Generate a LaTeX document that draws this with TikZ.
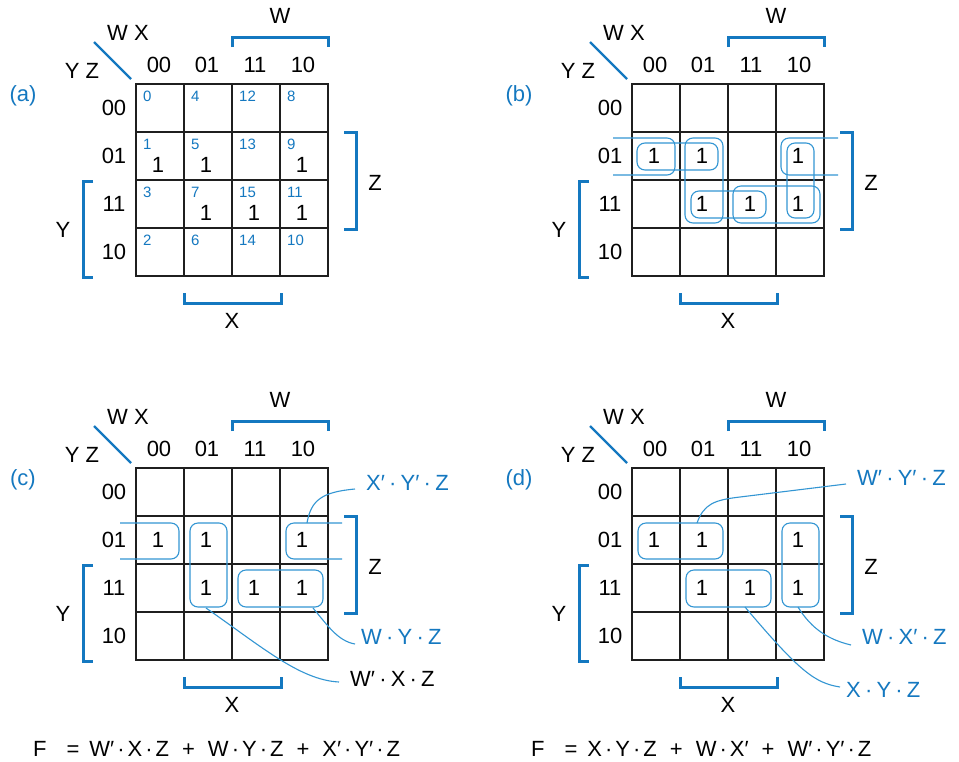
\documentclass[tikz,border=0pt]{standalone}
\usepackage{fontspec}
\setmainfont{Liberation Sans}
\definecolor{kblue}{HTML}{1478C0}
\definecolor{lblue}{HTML}{3396D3}
\tikzset{
  gridline/.style={draw=black!88, line width=1.8pt},
  brk/.style={draw=kblue, line width=3pt},
  diag/.style={draw=kblue, line width=2.4pt},
  grp/.style={draw=lblue, line width=1.1pt, rounded corners=8pt},
  leader/.style={draw=lblue, line width=1.1pt},
  txt/.style={font=\fontsize{22}{26}\selectfont, inner sep=0pt},
  btxt/.style={txt, text=kblue},
  cellnum/.style={font=\fontsize{15}{18}\selectfont, text=kblue, inner sep=0pt, anchor=west},
}
\newcommand\ld{\hspace{4.2pt}·\hspace{4.2pt}}
\newcommand\fd{\hspace{3pt}·\hspace{3pt}}
\newcommand\kpanel[4]{%
\begin{scope}[shift={(#2,#3)}]
  \foreach \k in {1,2,3}{
    \draw[gridline] (136+48*\k,84) -- (136+48*\k,276);
    \draw[gridline] (136,84+48*\k) -- (328,84+48*\k);}
  \draw[gridline] (136,84) rectangle (328,276);
  \foreach \lab [count=\k from 0] in {00,01,11,10}{
    \node[txt] (#1c\k) at (159+48*\k,65) {\lab};
    \node[txt] (#1r\k) at (114,108+48*\k) {\lab};}
  \node[txt] (#1wx) at (128,33) {W X};
  \node[txt] (#1yz) at (82,71) {Y Z};
  \draw[diag] (94,42) -- (131,79);
  \node[btxt] (#1id) at (23,96) {(#4)};
  \draw[brk] (232,47) -- (232,37) -- (328,37) -- (328,47);
  \node[txt] (#1W) at (280,16) {W};
  \draw[brk] (344,132) -- (356,132) -- (356,229) -- (344,229);
  \node[txt] (#1Z) at (375,183) {Z};
  \draw[brk] (93,181) -- (83,181) -- (83,277) -- (93,277);
  \node[txt] (#1Y) at (63,230) {Y};
  \draw[brk] (184,293) -- (184,303) -- (281,303) -- (281,293);
  \node[txt] (#1X) at (232,321) {X};
\end{scope}}
\newcommand\kones[4]{% prefix, dx, dy, y offset of the 1s
\begin{scope}[shift={(#2,#3)}]
  \foreach \cc/\rr [count=\k] in {0/1,1/1,3/1,1/2,2/2,3/2}{
    \node[txt] (#1one\k) at (158+48*\cc,108+48*\rr+#4) {1};}
\end{scope}}
\begin{document}
\begin{tikzpicture}[x=1pt,y=-1pt]
\useasboundingbox[fill=white] (0,0) rectangle (959,761);
% panels
\kpanel{a}{0}{0}{a}
\kpanel{b}{496}{0}{b}
\kpanel{c}{0}{384}{c}
\kpanel{d}{496}{384}{d}
% (a) minterm numbers and ones
\foreach \n [count=\j from 0] in {0,4,12,8,1,5,13,9,3,7,15,11,2,6,14,10}{
  \pgfmathtruncatemacro\cc{mod(\j,4)}
  \pgfmathtruncatemacro\rr{div(\j,4)}
  \node[cellnum] (an\n) at (143+48*\cc,96+48*\rr) {\n};}
\kones{a}{0}{0}{9}
\kones{b}{496}{0}{0}
\kones{c}{0}{384}{0}
\kones{d}{496}{384}{0}
% (b) prime implicants
\begin{scope}[shift={(496,0)}]
  \draw[grp] (117,138) -- (179,138) -- (179,175) -- (117,175);
  \draw[grp] (342,138) -- (285,138) -- (285,175) -- (342,175);
  \draw[grp] (141,143) rectangle (222,170);
  \draw[grp] (189,138) rectangle (227,223);
  \draw[grp] (195,191) rectangle (270,218);
  \draw[grp] (237,186) rectangle (324,223);
  \draw[grp] (291,143) rectangle (318,218);
\end{scope}
% (c) groups
\begin{scope}[shift={(0,384)}]
  \draw[grp] (120,139) -- (179,139) -- (179,175) -- (120,175);
  \draw[grp] (342,139) -- (286,139) -- (286,175) -- (342,175);
  \draw[grp] (190,139) rectangle (227,223);
  \draw[grp] (238,186) rectangle (323,223);
\end{scope}
% (d) groups
\begin{scope}[shift={(496,384)}]
  \draw[grp] (142,139) rectangle (227,175);
  \draw[grp] (190,186) rectangle (275,223);
  \draw[grp] (286,139) rectangle (323,223);
\end{scope}
% (c) labels and leaders
\node[btxt,anchor=west] (cl1) at (366,483) {X′\ld Y′\ld Z};
\node[btxt,anchor=west] (cl2) at (361,637) {W\ld Y\ld Z};
\node[txt,anchor=west] (cl3) at (350,679) {W′\ld X\ld Z};
\coordinate (cl1a) at (307,523); \coordinate (cl1b) at (355,489);
\coordinate (cl2a) at (313,608); \coordinate (cl2b) at (355,644);
\coordinate (cl3a) at (206,608); \coordinate (cl3b) at (339,682);
\draw[leader] (cl1b) .. controls (322,492) and (311,500) .. (cl1a);
\draw[leader] (cl2a) .. controls (328,626) and (338,641) .. (cl2b);
\draw[leader] (cl3a) .. controls (262,647) and (300,680) .. (cl3b);
% (d) labels and leaders
\node[btxt,anchor=west] (dl1) at (857,478) {W′\ld Y′\ld Z};
\node[btxt,anchor=west] (dl2) at (862,637) {W\ld X′\ld Z};
\node[btxt,anchor=west] (dl3) at (846,690) {X\ld Y\ld Z};
\coordinate (dl1a) at (697,523); \coordinate (dl1b) at (846,484);
\coordinate (dl2a) at (798,607); \coordinate (dl2b) at (851,645);
\coordinate (dl3a) at (745,607); \coordinate (dl3b) at (840,687);
\draw[leader] (dl1a) .. controls (704,504) and (714,500) .. (740,497) -- (dl1b);
\draw[leader] (dl2a) .. controls (812,630) and (830,640) .. (dl2b);
\draw[leader] (dl3a) .. controls (800,672) and (815,683) .. (dl3b);
% formulas
\node[txt,anchor=west] (fc) at (33,749) {F\hspace{20pt}=\hspace{10pt}W′\fd X\fd Z\hspace{13pt}+\hspace{13pt}W\fd Y\fd Z\hspace{13pt}+\hspace{13pt}X′\fd Y′\fd Z};
\node[txt,anchor=west] (fd) at (531,749) {F\hspace{20pt}=\hspace{10pt}X\fd Y\fd Z\hspace{13pt}+\hspace{13pt}W\fd X′\hspace{13pt}+\hspace{13pt}W′\fd Y′\fd Z};
\end{tikzpicture}
\end{document}
